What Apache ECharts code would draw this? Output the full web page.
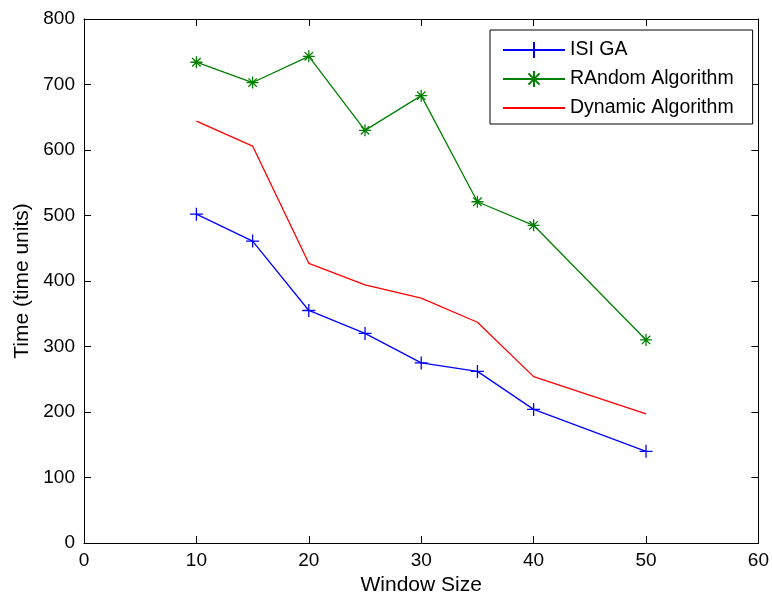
<!DOCTYPE html>
<html>
<head>
<meta charset="utf-8">
<script src="https://cdn.jsdelivr.net/npm/echarts@6/dist/echarts.min.js"></script>
<style>
  html, body { margin: 0; padding: 0; background: #fff; }
  #chart { width: 772px; height: 601px; }
</style>
</head>
<body>
<div id="chart"></div>
<script>
// Window sizes on the x axis
const windowSizes = [10, 15, 20, 25, 30, 35, 40, 50];
// Completion time per algorithm (time units)
const isiGA = [502, 461, 355, 320, 275, 262, 204, 140];
const randomAlg = [734, 703, 743, 630, 683, 521, 485, 310];
const dynamicAlg = [644, 606, 427, 394, 374, 337, 254, 197];
// Axis tick labels
const xTicks = [0, 10, 20, 30, 40, 50, 60];
const yTicks = [0, 100, 200, 300, 400, 500, 600, 700, 800];

const FONT = 'Liberation Sans, Arial, sans-serif';
const plusPath = 'path://M0,-1L0,1M-1,0L1,0';
const starPath = 'path://M0,-1L0,1M-1,0L1,0M-0.7,-0.7L0.7,0.7M-0.7,0.7L0.7,-0.7';

function pairs(ys) { return windowSizes.map((x, i) => [x, ys[i]]); }

const chart = echarts.init(document.getElementById('chart'));

// A boxed frame: every side carries an axis line with inward ticks
function frameAxis(ticks, step, extra) {
  return Object.assign({
    type: 'value', min: ticks[0], max: ticks[ticks.length - 1], interval: step,
    axisLine: { show: true, onZero: false, lineStyle: { color: '#000', width: 1 } },
    axisTick: { show: true, inside: true, length: 7, lineStyle: { color: '#000' } },
    splitLine: { show: false }
  }, extra);
}

chart.setOption({
  animation: false,
  backgroundColor: '#fff',
  grid: { left: 84, right: 9, top: 19, bottom: 56, containLabel: false },
  xAxis: [
    frameAxis(xTicks, 10, {
      position: 'bottom',
      name: 'Window Size', nameLocation: 'middle', nameGap: 32,
      nameTextStyle: { fontFamily: FONT, fontSize: 21, color: '#000' },
      axisLabel: { fontFamily: FONT, fontSize: 19, color: '#000', margin: 8 }
    }),
    frameAxis(xTicks, 10, { position: 'top', axisLabel: { show: false } })
  ],
  yAxis: [
    frameAxis(yTicks, 100, {
      position: 'left',
      name: 'Time (time units)', nameLocation: 'middle', nameGap: 49,
      nameTextStyle: { fontFamily: FONT, fontSize: 21, color: '#000' },
      axisLabel: { fontFamily: FONT, fontSize: 19, color: '#000', margin: 9 }
    }),
    frameAxis(yTicks, 100, { position: 'right', axisLabel: { show: false } })
  ],
  legend: {
    orient: 'vertical',
    left: 490, top: 30,
    padding: [10, 19, 6, 12],
    itemGap: 9,
    itemWidth: 62, itemHeight: 20,
    backgroundColor: '#fff',
    borderColor: '#000', borderWidth: 1,
    textStyle: { fontFamily: FONT, fontSize: 19.5, color: '#000' },
    data: [
      { name: 'ISI GA' },
      { name: 'RAndom Algorithm' },
      { name: 'Dynamic Algorithm', itemStyle: { opacity: 0 } }
    ]
  },
  series: [
    {
      name: 'ISI GA', type: 'line', data: pairs(isiGA),
      symbol: plusPath, symbolSize: 13, showAllSymbol: true,
      lineStyle: { color: '#0000ff', width: 1.3 },
      itemStyle: { color: '#0000ff', borderColor: '#0000ff', borderWidth: 1.3 }
    },
    {
      name: 'RAndom Algorithm', type: 'line', data: pairs(randomAlg),
      symbol: starPath, symbolSize: 12, showAllSymbol: true,
      lineStyle: { color: '#008000', width: 1.3 },
      itemStyle: { color: '#008000', borderColor: '#008000', borderWidth: 1.3 }
    },
    {
      name: 'Dynamic Algorithm', type: 'line', data: pairs(dynamicAlg),
      symbol: 'none',
      lineStyle: { color: '#ff0000', width: 1.3 },
      itemStyle: { color: '#ff0000' }
    }
  ]
});
</script>
</body>
</html>
